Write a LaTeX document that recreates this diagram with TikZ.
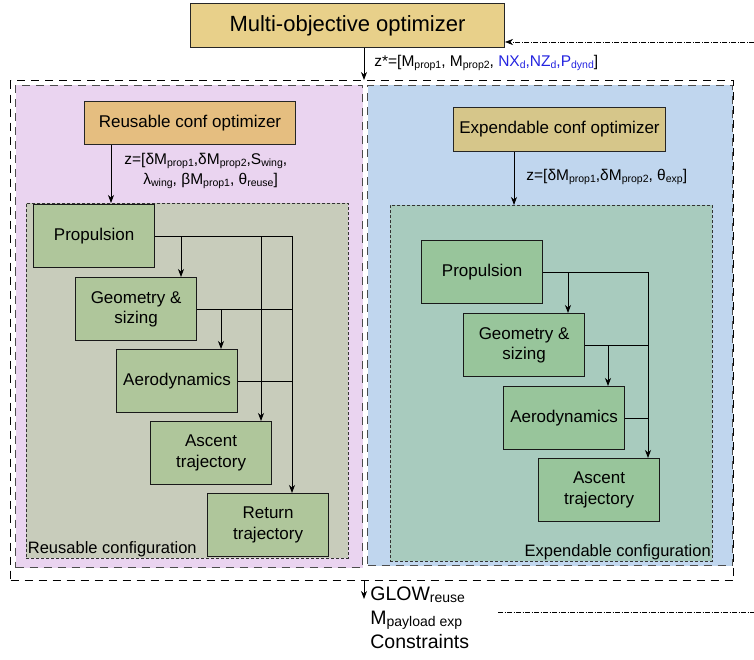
\documentclass[tikz,border=0pt]{standalone}
\usepackage{fontspec}
\setmainfont{Liberation Sans}
\usepackage{tikz}
\usetikzlibrary{positioning}
\usetikzlibrary{calc}
\usetikzlibrary{arrows.meta}
\definecolor{moyellow}{HTML}{E8D08A}
\definecolor{reuseopt}{HTML}{E5BE80}
\definecolor{expopt}{HTML}{D6C68A}
\definecolor{reusebg}{HTML}{EAD4F0}
\definecolor{expbg}{HTML}{C0D6EE}
\definecolor{reuseinner}{HTML}{C8CCBB}
\definecolor{expinner}{HTML}{A8CBBE}
\definecolor{reusemod}{HTML}{AFC69B}
\definecolor{expmod}{HTML}{98C59B}
\definecolor{zblue}{HTML}{2424E0}
\newcommand{\subtxt}[1]{\raisebox{-0.12em}{\fontsize{10.5}{12}\selectfont #1}}
\newcommand{\subbig}[1]{\raisebox{-0.12em}{\fontsize{14}{16}\selectfont #1}}
\tikzset{
	arr/.style={-{Stealth[length=8pt,width=6pt,inset=2.5pt]}},
	fb/.style={line width=0.5pt,dash pattern=on 5pt off 1.5pt on 1pt off 1.5pt},
	outerbox/.style={draw,line width=1.2pt,dash pattern=on 8pt off 6pt,anchor=north west,inner sep=0},
	halfbox/.style={draw=black!70,line width=1pt,dash pattern=on 8pt off 6pt,anchor=north west,inner sep=0},
	confbox/.style={draw=black!80,line width=0.7pt,dash pattern=on 3pt off 2pt,anchor=north west,inner sep=0},
	optbox/.style={draw=black!85,line width=1pt,anchor=north west,font=\fontsize{17}{20}\selectfont},
	modbox/.style={draw=black!90,line width=1.2pt,anchor=north west,minimum width=121,minimum height=63,align=center,font=\fontsize{17}{20.5}\selectfont},
	rmod/.style={modbox,fill=reusemod},
	emod/.style={modbox,fill=expmod},
	zlab/.style={font=\fontsize{15.5}{20}\selectfont,inner sep=1pt},
	cfglab/.style={font=\fontsize{16.5}{20}\selectfont,inner sep=1.5pt},
}
\begin{document}
\begin{tikzpicture}[x=1pt,y=-1pt,line width=0.8pt]
	\useasboundingbox (0,0) rectangle (754,660);
	
	\node[outerbox,minimum width=723,minimum height=500] at (10,80) (Outer) {};
	\node[halfbox,fill=reusebg,minimum width=347,minimum height=482] at (15,85) (RHalf) {};
	\node[halfbox,fill=expbg,minimum width=365,minimum height=480] at (367,85) (EHalf) {};
	\node[confbox,fill=reuseinner,minimum width=322,minimum height=355] at (26,203) (RConf) {};
	\node[confbox,fill=expinner,minimum width=322,minimum height=356] at (390,205) (EConf) {};
	\node[optbox,fill=moyellow,minimum width=314,minimum height=44,font=\fontsize{22}{26}\selectfont] at (190,3) (MO) {Multi-objective optimizer};
	\node[optbox,fill=reuseopt,minimum width=211,minimum height=43] at (84,101) (ROpt) {Reusable conf optimizer};
	\node[optbox,fill=expopt,minimum width=212,minimum height=44] at (453,107) (EOpt) {Expendable conf optimizer};
	\node[rmod] at (33,204) (RProp) {Propulsion};
	\node[rmod] at (75,277) (RGeo) {Geometry \&\\sizing};
	\node[rmod] at (116,349) (RAero) {Aerodynamics};
	\node[rmod] at (150,421) (RAsc) {Ascent\\trajectory};
	\node[rmod] at (207,493) (RRet) {Return\\trajectory};
	\node[emod] at (421,240) (EProp) {Propulsion};
	\node[emod] at (463,313) (EGeo) {Geometry \&\\sizing};
	\node[emod] at (503,386) (EAero) {Aerodynamics};
	\node[emod] at (538,458) (EAsc) {Ascent\\trajectory};
	\node[cfglab,anchor=south west] at (RConf.south west) (RLab) {Reusable configuration};
	\node[cfglab,anchor=south east] at (EConf.south east) (ELab) {Expendable configuration};
	\node[zlab,anchor=west] at (373,63) (zTop) {z*=[M\subtxt{prop1}, M\subtxt{prop2}, \textcolor{zblue}{NX\subtxt{d},NZ\subtxt{d},P\subtxt{dynd}}]};
	\node[zlab,anchor=north west,align=left,font=\fontsize{15.5}{20}\selectfont] at (123,152) (zR) {z=[δM\subtxt{prop1},δM\subtxt{prop2},S\subtxt{wing},\\\hspace{19pt}λ\subtxt{wing}, βM\subtxt{prop1}, θ\subtxt{reuse}]};
	\node[zlab,anchor=west] at (525,177) (zE) {z=[δM\subtxt{prop1},δM\subtxt{prop2}, θ\subtxt{exp}]};
	\node[anchor=north west,align=left,inner sep=1pt,font=\fontsize{19.5}{24}\selectfont] at (369,585) (Out) {GLOW\subbig{reuse}\\M\subbig{payload exp}\\Constraints};
	
	\coordinate (mx) at (364,0); \coordinate (outTip) at (364,599);
	\coordinate (fbIn) at (754,42); \coordinate (fbOut) at (498,612);
	\draw[arr] (mx |- MO.south) -- (mx |- Outer.north);
	\draw[arr] (mx |- Outer.south) -- (outTip);
	\draw[fb,arr] (fbIn) -- (fbIn -| MO.east);
	\draw[fb] (fbOut) -- (fbOut -| fbIn);
	
	\coordinate (Rin) at (111,0); \coordinate (Ein) at (514,0);
	\draw[arr] (Rin |- ROpt.south) -- (Rin |- RConf.north);
	\draw[arr] (Ein |- EOpt.south) -- (Ein |- EConf.north);
	
	\coordinate (Rdrop1) at (181,0); \coordinate (Rdrop2) at (221,0);
	\coordinate (Rbus1) at (261,0); \coordinate (Rbus2) at (292,0);
	\draw (RProp.east) -- (RProp.east -| Rbus2); \draw (RGeo.east) -- (RGeo.east -| Rbus2); \draw (RAero.east) -- (RAero.east -| Rbus2);
	\draw[arr] (RProp.east -| Rdrop1) -- (Rdrop1 |- RGeo.north); \draw[arr] (RGeo.east -| Rdrop2) -- (Rdrop2 |- RAero.north);
	\draw[arr] (RProp.east -| Rbus1) -- (Rbus1 |- RAsc.north); \draw[arr] (RProp.east -| Rbus2) -- (Rbus2 |- RRet.north);
	
	\coordinate (Edrop1) at (568,0); \coordinate (Edrop2) at (608,0); \coordinate (Ebus) at (648,0);
	\draw (EProp.east) -- (EProp.east -| Ebus); \draw (EGeo.east) -- (EGeo.east -| Ebus); \draw (EAero.east) -- (EAero.east -| Ebus);
	\draw[arr] (EProp.east -| Edrop1) -- (Edrop1 |- EGeo.north); \draw[arr] (EGeo.east -| Edrop2) -- (Edrop2 |- EAero.north);
	\draw[arr] (EProp.east -| Ebus) -- (Ebus |- EAsc.north);
\end{tikzpicture}
\end{document}
